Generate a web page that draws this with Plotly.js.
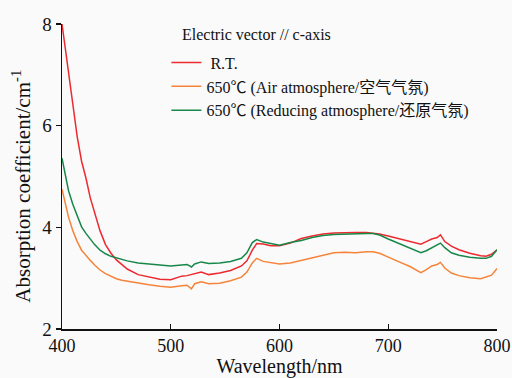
<!DOCTYPE html>
<html>
<head>
<meta charset="utf-8">
<script src="https://cdn.plot.ly/plotly-3.0.1.min.js"></script>
<style>
  html, body { margin: 0; padding: 0; background: #fafafa; }
  #chart { width: 512px; height: 378px; }
</style>
</head>
<body>
<div id="chart"></div>
<script>
// Wavelength sampling (nm) shared by all three spectra
const wavelength = [400, 403, 406, 410, 414, 418, 422, 426, 430, 435, 440, 445, 450, 455, 460,
  470, 480, 490, 500, 510, 515, 519, 522, 528, 535, 545, 555, 565, 570, 575, 579, 585, 592,
  600, 610, 620, 630, 640, 650, 660, 670, 680, 686, 692, 700, 710, 720, 730, 735, 740, 745,
  748, 752, 758, 765, 775, 785, 790, 795, 800];

// Absorption coefficient (cm^-1), as-grown crystal at room temperature
const roomTemp = [8.00, 7.53, 7.05, 6.46, 5.78, 5.30, 4.97, 4.58, 4.27, 3.93, 3.66, 3.49, 3.36, 3.26, 3.18,
  3.07, 3.02, 2.98, 2.97, 3.04, 3.05, 3.07, 3.08, 3.12, 3.07, 3.10, 3.15, 3.24, 3.34, 3.55, 3.68, 3.67, 3.64,
  3.64, 3.69, 3.78, 3.83, 3.87, 3.89, 3.90, 3.90, 3.90, 3.89, 3.87, 3.83, 3.78, 3.73, 3.67, 3.72, 3.77, 3.80,
  3.85, 3.72, 3.63, 3.56, 3.49, 3.44, 3.43, 3.47, 3.56];

// Annealed at 650 °C in air
const airAnneal = [4.75, 4.45, 4.20, 3.93, 3.72, 3.55, 3.44, 3.35, 3.26, 3.16, 3.09, 3.04, 2.99, 2.96, 2.94,
  2.90, 2.87, 2.84, 2.82, 2.85, 2.86, 2.79, 2.89, 2.93, 2.89, 2.90, 2.95, 3.02, 3.12, 3.30, 3.39, 3.33, 3.30,
  3.28, 3.30, 3.35, 3.41, 3.46, 3.50, 3.51, 3.50, 3.52, 3.52, 3.49, 3.41, 3.32, 3.23, 3.11, 3.17, 3.24, 3.27,
  3.31, 3.20, 3.10, 3.05, 3.01, 2.99, 3.02, 3.06, 3.19];

// Annealed at 650 °C in a reducing atmosphere
const reducingAnneal = [5.36, 5.00, 4.72, 4.45, 4.22, 4.01, 3.88, 3.76, 3.66, 3.55, 3.48, 3.43, 3.40, 3.37, 3.34,
  3.30, 3.28, 3.25, 3.24, 3.26, 3.27, 3.22, 3.28, 3.32, 3.29, 3.30, 3.33, 3.39, 3.50, 3.70, 3.76, 3.71, 3.68,
  3.65, 3.70, 3.74, 3.80, 3.84, 3.86, 3.87, 3.88, 3.88, 3.88, 3.85, 3.77, 3.68, 3.60, 3.50, 3.54, 3.60, 3.65,
  3.69, 3.60, 3.50, 3.45, 3.41, 3.39, 3.39, 3.43, 3.56];

const seriesNames = ['\u00a0R.T.', '650\u2103 (Air atmosphere/空气气氛)', '650\u2103 (Reducing atmosphere/还原气氛)'];
const seriesColors = ['#ec2a2f', '#f5843a', '#17874a'];

const FONT = 'Liberation Serif, Times New Roman, Noto Sans CJK SC, serif';
const INK = '#111';

const traces = [roomTemp, airAnneal, reducingAnneal].map((vals, i) => ({
  type: 'scatter',
  mode: 'lines',
  x: wavelength,
  y: vals,
  name: seriesNames[i],
  line: { color: seriesColors[i], width: 1.5 }
}));

const layout = {
  width: 512,
  height: 378,
  margin: { l: 62, r: 15, t: 24, b: 49 },
  paper_bgcolor: '#fafafa',
  plot_bgcolor: '#fafafa',
  font: { family: FONT, color: INK, size: 16 },
  showlegend: true,
  legend: {
    x: 0.24, y: 0.929, xanchor: 'left', yanchor: 'top',
    bgcolor: 'rgba(0,0,0,0)',
    font: { family: FONT, size: 16, color: INK },
    tracegroupgap: 0
  },
  xaxis: {
    range: [400, 800],
    tickvals: [400, 500, 600, 700, 800],
    ticks: 'inside', ticklen: 5, tickwidth: 1.2, tickcolor: INK,
    showline: true, linecolor: INK, linewidth: 1.5,
    showgrid: false, zeroline: false,
    tickfont: { family: FONT, size: 18, color: INK },
    title: { text: 'Wavelength/nm', font: { family: FONT, size: 20, color: INK }, standoff: 4 }
  },
  yaxis: {
    range: [2, 8],
    tickvals: [2, 4, 6, 8],
    ticks: 'outside', ticklen: 5, tickwidth: 1.2, tickcolor: INK,
    showline: true, linecolor: INK, linewidth: 1.5,
    showgrid: false, zeroline: false,
    tickfont: { family: FONT, size: 19, color: INK }
  },
  annotations: [
    {
      // heading above the legend entries
      text: 'Electric vector // c-axis',
      xref: 'paper', yref: 'paper',
      x: 0.271, y: 0.964,
      xanchor: 'left', yanchor: 'middle',
      showarrow: false,
      font: { family: FONT, size: 16, color: INK }
    },
    {
      // y-axis title, set slightly below the plot's vertical centre
      text: 'Absorption coefficient/cm<sup>-1</sup>',
      xref: 'paper', yref: 'paper',
      x: -0.092, y: 0.47,
      xanchor: 'center', yanchor: 'middle',
      textangle: -90, showarrow: false,
      font: { family: FONT, size: 21, color: INK }
    }
  ]
};

Plotly.newPlot('chart', traces, layout, { displayModeBar: false, staticPlot: true });
</script>
</body>
</html>
